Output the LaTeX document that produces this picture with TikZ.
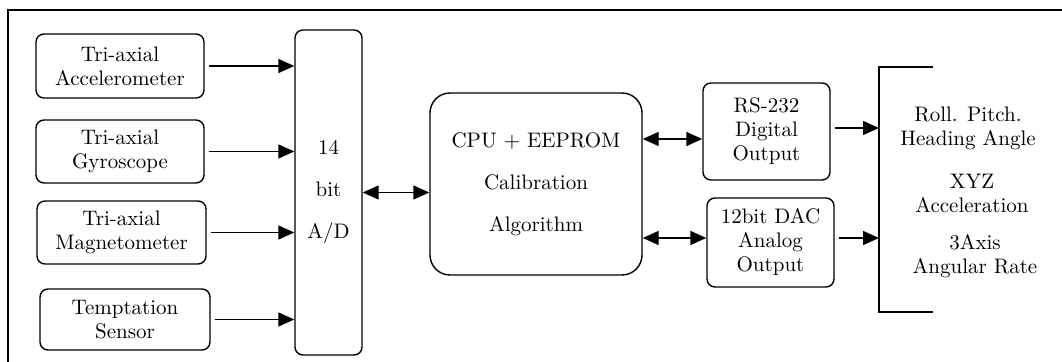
\documentclass[tikz,border=0pt]{standalone}
\usepackage{tikz}
\usetikzlibrary{arrows.meta}

\begin{document}
\begin{tikzpicture}[x=0.5pt, y=-0.5pt, line width=0.7pt,
    font=\fontsize{10.5pt}{12pt}\selectfont,
    sensor/.style={draw, rounded corners=4pt, align=center, inner sep=0pt},
    unit/.style={draw, rounded corners=4pt, align=center, inner sep=0pt},
    sig/.style={-{Triangle[length=8pt,width=7pt]}},
    bus/.style={{Triangle[length=8pt,width=7pt]}-{Triangle[length=8pt,width=7pt]}}]
\useasboundingbox (0,0) rectangle (1062,362);

% outer frame, cut off at right and bottom
\coordinate (F1) at (8,362);
\coordinate (F2) at (8,10);
\coordinate (F3) at (1062,10);
\draw (F1) -- (F2) -- (F3);

% sensors on the left
\node[sensor, minimum width=84pt, minimum height=32pt] (acc) at (120,66)
    {Tri-axial\\Accelerometer};
\node[sensor, minimum width=84pt, minimum height=31.5pt] (gyro) at (120,151.5)
    {Tri-axial\\Gyroscope};
\node[sensor, minimum width=84.5pt, minimum height=31.5pt] (mag) at (121.5,232.5)
    {Tri-axial\\Magnetometer};
\node[sensor, minimum width=85pt, minimum height=30.5pt] (temp) at (125,319.5)
    {Temptation\\Sensor};

% converter and processor
\node[unit, minimum width=33.5pt, minimum height=162.5pt] (ad) at (328.5,192.5)
    {14\\[9pt]bit\\[9pt]A/D};
\node[unit, rounded corners=10pt, minimum width=106pt, minimum height=91pt] (cpu) at (536,184)
    {CPU + EEPROM\\[9pt]Calibration\\[9pt]Algorithm};

% outputs
\node[unit, minimum width=63.5pt, minimum height=48.5pt] (rs) at (766.5,131.5)
    {RS-232\\Digital\\Output};
\node[unit, minimum width=63.5pt, minimum height=44.5pt] (dac) at (770.5,242.5)
    {12bit DAC\\Analog\\Output};

% bracket for the output quantities
\coordinate (B1) at (933,67);
\coordinate (B2) at (879,67);
\coordinate (B3) at (879,312);
\coordinate (B4) at (933,312);
\draw (B1) -- (B2) -- (B3) -- (B4);

\node[align=center] (angle) at (968,128) {Roll. Pitch.\\Heading Angle};
\node[align=center] (accel) at (972,193) {XYZ\\Acceleration};
\node[align=center] (rate) at (975,256) {3Axis\\Angular Rate};

% signal paths
\draw[sig, shorten <=2pt] (acc.east) -- (acc.east -| ad.west);
\draw[sig, shorten <=2pt] (gyro.east) -- (gyro.east -| ad.west);
\draw[sig, shorten <=2pt] (mag.east) -- (mag.east -| ad.west);
\draw[sig, shorten <=2pt] (temp.east) -- (temp.east -| ad.west);
\draw[bus] (ad.east) -- (ad.east -| cpu.west);
\draw[bus] ([yshift=-3.75pt]rs.west -| cpu.east) -- ([yshift=-3.75pt]rs.west);
\draw[bus] ([yshift=2.25pt]dac.west -| cpu.east) -- ([yshift=2.25pt]dac.west);
\draw[sig, shorten <=2pt] ([yshift=1.75pt]rs.east) -- ([yshift=1.75pt]rs.east -| B2);
\draw[sig, shorten <=2pt] ([yshift=2.25pt]dac.east) -- ([yshift=2.25pt]dac.east -| B2);

\end{tikzpicture}
\end{document}
